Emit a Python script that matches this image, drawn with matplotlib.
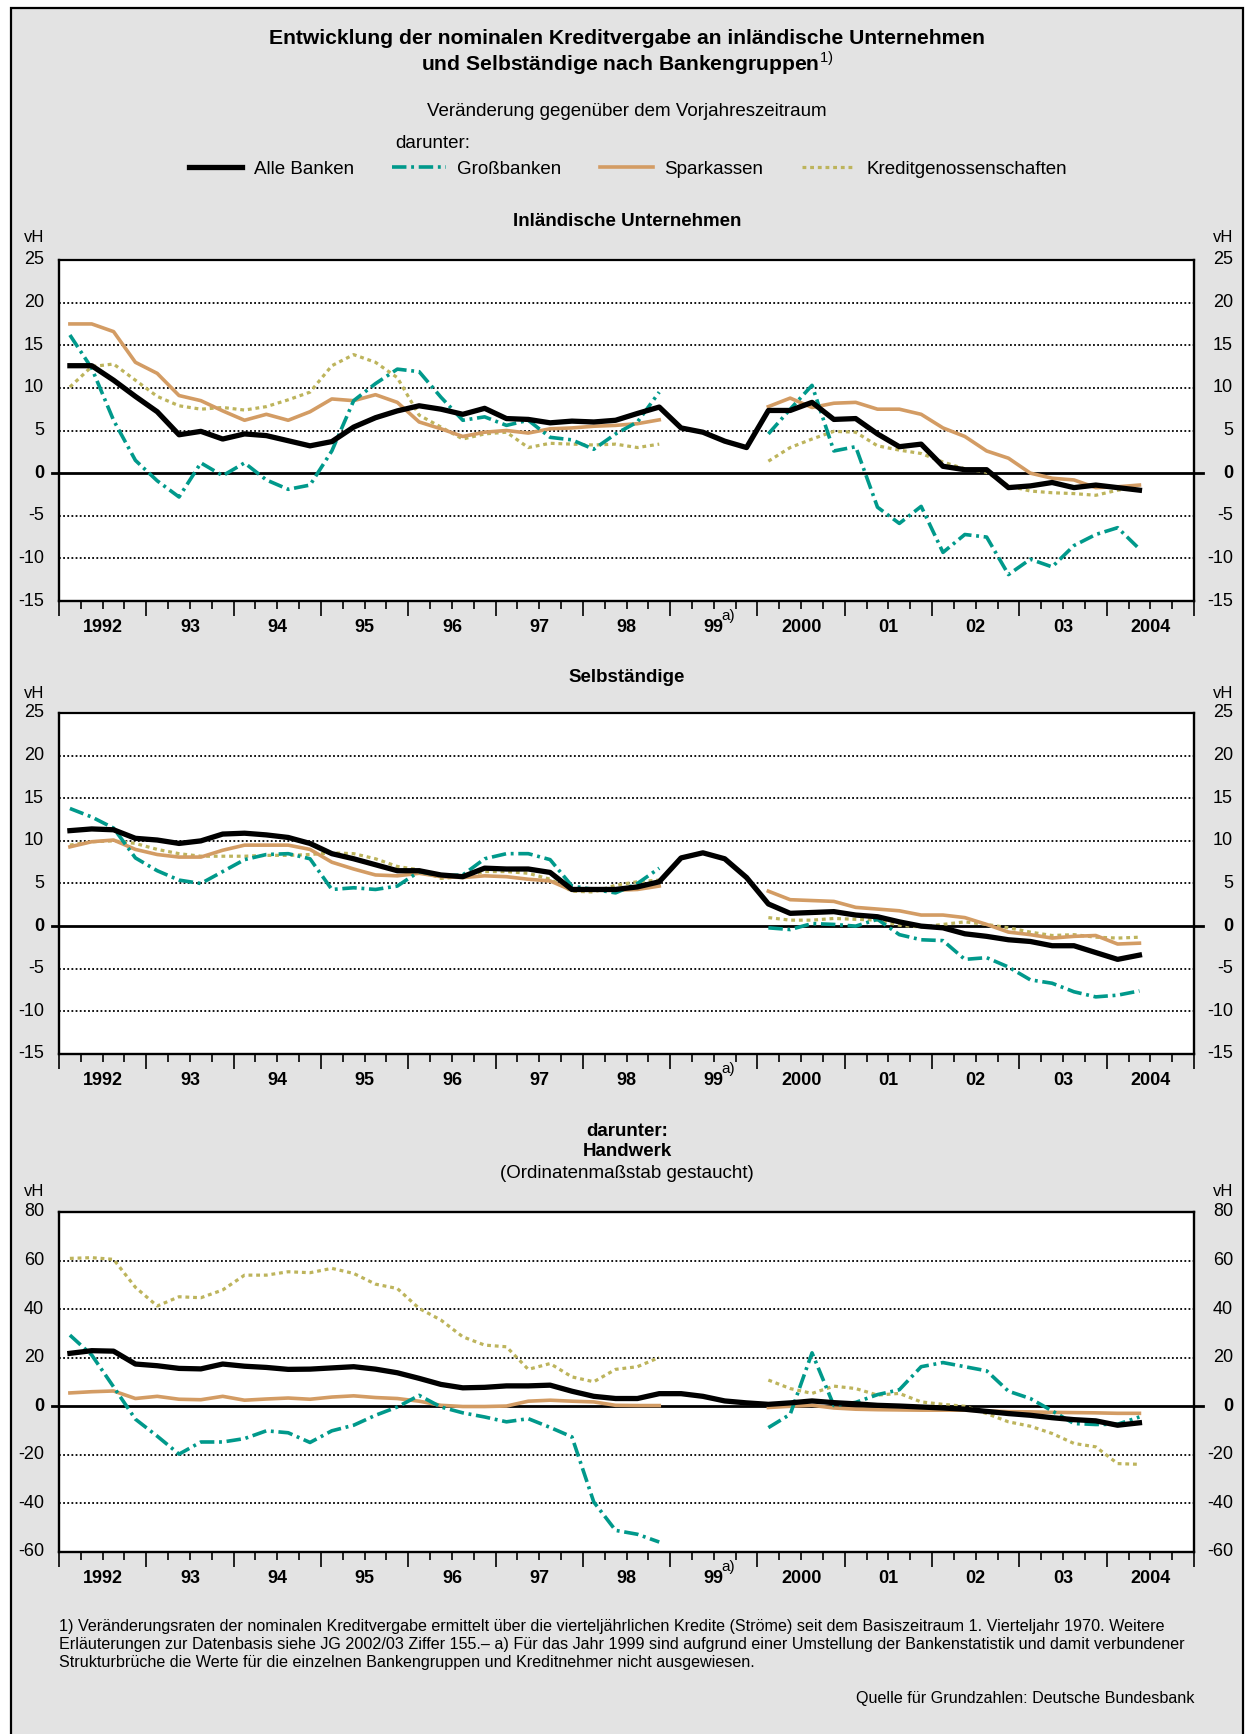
## Kreditvergabe nach Bankengruppen: three panels of quarterly growth rates (vH)

import numpy as np
import matplotlib.pyplot as plt
from matplotlib.lines import Line2D
from matplotlib.patches import Rectangle

plt.rcParams['font.family'] = ['Liberation Sans', 'DejaVu Sans']
plt.rcParams['mathtext.fontset'] = 'custom'
plt.rcParams['mathtext.rm'] = 'Liberation Sans'
plt.rcParams['mathtext.bf'] = 'Liberation Sans:bold'

nan = np.nan

## Data: quarterly values 1992 Q1 .. 2004 Q2 (50 quarters), bank groups not shown for 1999
# Inländische Unternehmen
alle_u = [12.6, 12.6, 10.9, 9.0, 7.2, 4.5, 4.9, 4.0, 4.6, 4.4,
          3.8, 3.2, 3.7, 5.4, 6.5, 7.3, 7.9, 7.5, 6.9, 7.6,
          6.4, 6.3, 5.9, 6.1, 6.0, 6.2, 7.0, 7.75, 5.3, 4.8,
          3.75, 3.0, 7.35, 7.35, 8.3, 6.3, 6.4, 4.6, 3.1, 3.4,
          0.8, 0.4, 0.4, -1.7, -1.5, -1.1, -1.7, -1.4, -1.7, -2.0]
gross_u = [16.2, 12.3, 6.2, 1.5, -0.9, -2.8, 1.2, -0.3, 1.2, -0.8,
           -1.9, -1.4, 2.6, 8.5, 10.5, 12.2, 11.9, 8.9, 6.2, 6.6,
           5.6, 6.2, 4.2, 3.9, 2.8, 4.6, 6.0, 9.5, nan, nan,
           nan, nan, 4.6, 7.5, 10.3, 2.6, 3.1, -4.0, -5.9, -3.9,
           -9.3, -7.2, -7.5, -11.9, -10.1, -11.0, -8.5, -7.2, -6.4, -8.9]
spark_u = [17.5, 17.5, 16.6, 13.0, 11.7, 9.1, 8.5, 7.3, 6.2, 6.9,
           6.2, 7.2, 8.7, 8.5, 9.2, 8.3, 6.0, 5.2, 4.3, 4.8,
           5.0, 4.7, 5.2, 5.3, 5.5, 5.6, 5.8, 6.25, nan, nan,
           nan, nan, 7.8, 8.8, 7.7, 8.2, 8.3, 7.5, 7.5, 6.9,
           5.3, 4.3, 2.6, 1.75, 0.0, -0.6, -0.8, -1.7, -1.6, -1.4]
kredit_u = [10.1, 12.5, 12.8, 10.9, 9.0, 7.9, 7.5, 7.7, 7.4, 7.8,
            8.6, 9.5, 12.6, 13.9, 13.0, 11.2, 6.8, 5.4, 4.0, 4.6,
            4.8, 3.0, 3.5, 3.4, 3.3, 3.4, 3.0, 3.4, nan, nan,
            nan, nan, 1.4, 3.0, 4.0, 4.9, 4.8, 3.2, 2.7, 2.3,
            1.3, 0.5, 0.1, -1.5, -2.1, -2.3, -2.4, -2.6, -2.0, -1.7]

# Selbständige
alle_s = [11.2, 11.4, 11.3, 10.3, 10.1, 9.7, 10.0, 10.8, 10.9, 10.7,
          10.4, 9.7, 8.5, 7.9, 7.2, 6.5, 6.5, 6.0, 5.8, 6.8,
          6.7, 6.7, 6.3, 4.3, 4.3, 4.3, 4.6, 5.2, 8.0, 8.6,
          7.9, 5.7, 2.6, 1.5, 1.6, 1.7, 1.3, 1.1, 0.5, 0.0,
          -0.2, -0.9, -1.2, -1.6, -1.8, -2.3, -2.3, -3.1, -3.9, -3.4]
gross_s = [13.8, 12.8, 11.5, 8.0, 6.5, 5.4, 5.0, 6.4, 7.8, 8.4,
           8.5, 7.9, 4.3, 4.5, 4.3, 4.7, 6.4, 5.9, 6.0, 7.9,
           8.5, 8.5, 7.8, 4.7, 4.3, 3.9, 5.0, 6.8, nan, nan,
           nan, nan, -0.2, -0.4, 0.3, 0.2, 0.0, 0.8, -1.0, -1.6,
           -1.7, -3.9, -3.7, -4.8, -6.3, -6.7, -7.7, -8.3, -8.1, -7.6]
spark_s = [9.3, 9.9, 10.1, 9.0, 8.4, 8.1, 8.1, 8.9, 9.5, 9.5,
           9.5, 9.0, 7.5, 6.7, 6.0, 5.9, 6.2, 5.8, 5.7, 5.9,
           5.8, 5.5, 5.3, 4.2, 4.2, 4.2, 4.3, 4.7, nan, nan,
           nan, nan, 4.1, 3.1, 3.0, 2.9, 2.2, 2.0, 1.8, 1.3,
           1.3, 1.0, 0.2, -0.7, -1.0, -1.4, -1.2, -1.1, -2.1, -2.0]
kredit_s = [9.5, 9.9, 10.0, 9.7, 9.0, 8.5, 8.2, 8.2, 8.2, 8.3,
            8.3, 8.4, 8.6, 8.5, 7.9, 7.0, 6.6, 5.6, 5.8, 6.4,
            6.4, 6.2, 5.5, 4.1, 4.0, 4.8, 5.2, 5.4, nan, nan,
            nan, nan, 1.0, 0.7, 0.7, 0.9, 0.8, 0.7, 0.1, -0.1,
            0.2, 0.5, 0.2, -0.2, -0.7, -1.1, -1.0, -1.3, -1.4, -1.3]

# darunter: Handwerk
alle_h = [21.8, 22.9, 22.7, 17.4, 16.7, 15.6, 15.4, 17.4, 16.5, 16.0,
          15.2, 15.3, 15.8, 16.3, 15.3, 13.8, 11.5, 9.0, 7.6, 7.8,
          8.4, 8.4, 8.7, 6.2, 4.1, 3.2, 3.2, 5.2, 5.2, 4.1,
          2.2, 1.4, 0.8, 1.4, 2.2, 1.5, 1.0, 0.4, 0.1, -0.3,
          -0.7, -1.2, -2.1, -3.0, -3.7, -4.7, -5.5, -6.0, -7.8, -6.8]
gross_h = [29.3, 21.1, 8.0, -5.3, -12.3, -19.7, -14.7, -14.7, -13.3, -10.1,
           -10.9, -14.9, -10.1, -7.8, -3.7, -0.3, 4.5, -0.3, -2.7, -4.4,
           -6.4, -5.1, -8.7, -12.6, -39.4, -51.1, -52.7, -55.9, nan, nan,
           nan, nan, -8.8, -3.3, 22.0, 0.3, 1.6, 4.8, 6.8, 16.3,
           18.0, 16.3, 14.6, 6.2, 3.2, -1.9, -7.1, -7.5, -7.4, -4.4]
spark_h = [5.5, 6.0, 6.3, 3.2, 4.1, 2.9, 2.7, 4.1, 2.5, 3.0,
           3.4, 2.9, 3.8, 4.3, 3.6, 3.2, 2.1, 0.4, -0.1, -0.1,
           0.1, 2.1, 2.5, 2.1, 1.8, 0.4, 0.3, 0.3, nan, nan,
           nan, nan, -0.5, 0.0, 0.4, -0.7, -1.2, -1.4, -1.5, -1.6,
           -1.6, -1.6, -1.9, -2.2, -2.3, -2.5, -2.6, -2.7, -2.9, -2.9]
kredit_h = [60.9, 61.2, 60.5, 49.0, 41.3, 45.1, 44.7, 47.9, 54.0, 54.0,
            55.4, 55.0, 56.8, 54.7, 50.3, 48.5, 40.3, 35.5, 28.6, 25.2,
            24.5, 15.2, 17.6, 12.1, 10.1, 15.2, 16.3, 20.1, nan, nan,
            nan, nan, 10.8, 7.3, 5.3, 8.3, 7.3, 4.6, 5.3, 1.8,
            0.8, 0.0, -3.0, -6.4, -8.2, -11.2, -15.3, -16.7, -23.6, -23.9]

year_labels = ['1992', '93', '94', '95', '96', '97', '98', '99',
               '2000', '01', '02', '03', '2004']
series_names = ['Alle Banken', 'Großbanken', 'Sparkassen', 'Kreditgenossenschaften']

## Styles
c_alle = 'black'
c_gross = '#00998b'
c_spark = '#d39c64'
c_kredit = '#bdb45c'
ls_gross = (0, (4, 1.3, 0.8, 1.3))
ls_kredit = (0, (1.2, 1.2))
bg = '#e3e3e3'

W, H = 1246, 1734
def fx(px):
    return px / W
def fy(py):
    return 1 - py / H

xq = 1992 + (np.arange(len(alle_u)) + 0.5) / 4.0

fig = plt.figure(figsize=(12.46, 17.34), dpi=100, facecolor='white')
fig.add_artist(Rectangle((fx(11), -0.02), fx(1243) - fx(11), fy(8) + 0.02,
                         transform=fig.transFigure, facecolor=bg,
                         edgecolor='black', lw=1.6, zorder=-10))


def draw_panel(box, alle, gross, spark, kredit, ylo, yhi, ystep, top_dotted):
    x0, y0, x1, y1 = box
    ax = fig.add_axes([fx(x0), fy(y1), fx(x1) - fx(x0), (y1 - y0) / H])
    ax.set_facecolor('white')
    ax.set_xlim(1992, 2005)
    ax.set_ylim(ylo, yhi)

    for v in np.arange(ylo + ystep, yhi, ystep):
        if v != 0:
            ax.axhline(v, color='black', lw=1.3, ls=(0, (1, 1.3)), zorder=1)
    ax.axhline(0, -0.006, 1.008, color='black', lw=2.0, clip_on=False, zorder=2)

    ax.plot(xq, np.array(kredit, float), color=c_kredit, lw=2.3, ls=ls_kredit, zorder=3)
    ax.plot(xq, np.array(spark, float), color=c_spark, lw=2.6, zorder=3)
    ax.plot(xq, np.array(gross, float), color=c_gross, lw=2.6, ls=ls_gross, zorder=4)
    ax.plot(xq, np.array(alle, float), color=c_alle, lw=3.8, zorder=5)

    for s in ['left', 'right', 'bottom']:
        ax.spines[s].set_linewidth(1.7)
    if top_dotted:
        ax.spines['top'].set_linestyle((0, (1, 1)))
        ax.spines['top'].set_linewidth(1.6)
    else:
        ax.spines['top'].set_linewidth(1.7)

    # y labels on both sides
    ax.tick_params(axis='y', left=False, labelleft=False)
    ytr = ax.get_yaxis_transform()
    for v in np.arange(ylo, yhi + ystep / 2, ystep):
        w = 'bold' if v == 0 else 'normal'
        ax.text(-0.0132, v, '%d' % v, transform=ytr, ha='right', va='center',
                fontsize=13, fontweight=w)
        ax.text(1.0344, v, '%d' % v, transform=ytr, ha='right', va='center',
                fontsize=13, fontweight=w)

    # quarter ticks, year labels between year ticks
    ax.set_xticks(np.arange(1992, 2006))
    ax.set_xticks(np.arange(1992, 2005.01, 0.25), minor=True)
    ax.tick_params(axis='x', which='major', length=10.5, width=1.2, direction='out',
                   labelbottom=False)
    ax.tick_params(axis='x', which='minor', length=5.5, width=1.2, direction='out')
    xtr = ax.get_xaxis_transform()
    for k, lab in enumerate(year_labels):
        ax.text(1992 + k + 0.5, -0.078, lab, transform=xtr, ha='center', va='center',
                fontsize=13, fontweight='bold')
    ax.annotate('a)', xy=(1999.5, -0.078), xycoords=xtr, xytext=(5.5, 8),
                textcoords='offset points', ha='left', va='center', fontsize=11)
    return ax


draw_panel((59, 260, 1194, 601), alle_u, gross_u, spark_u, kredit_u, -15, 25, 5, True)
draw_panel((59, 713, 1194, 1054), alle_s, gross_s, spark_s, kredit_s, -15, 25, 5, True)
draw_panel((59, 1212, 1194, 1552), alle_h, gross_h, spark_h, kredit_h, -60, 80, 20, False)

## Texts
fig.text(fx(627), fy(39), 'Entwicklung der nominalen Kreditvergabe an inländische Unternehmen',
         ha='center', va='center', fontsize=15.2, fontweight='bold')
fig.text(fx(627), fy(63), 'und Selbständige nach Bankengruppen$^{\\mathrm{1)}}$',
         ha='center', va='center', fontsize=15.2, fontweight='bold')
fig.text(fx(627), fy(112), 'Veränderung gegenüber dem Vorjahreszeitraum',
         ha='center', va='center', fontsize=13.5)
fig.text(fx(395), fy(144), 'darunter:', ha='left', va='center', fontsize=13.5)

handles = [Line2D([], [], color=c_alle, lw=3.8),
           Line2D([], [], color=c_gross, lw=2.6, ls=ls_gross),
           Line2D([], [], color=c_spark, lw=2.6),
           Line2D([], [], color=c_kredit, lw=2.3, ls=ls_kredit)]
fig.legend(handles, series_names, loc='center', bbox_to_anchor=(fx(628), fy(169)),
           ncol=4, frameon=False, fontsize=13.5, handlelength=2.85,
           handletextpad=0.6, columnspacing=2.05)

fig.text(fx(627), fy(222), 'Inländische Unternehmen', ha='center', va='center',
         fontsize=13.5, fontweight='bold')
fig.text(fx(627), fy(677), 'Selbständige', ha='center', va='center',
         fontsize=13.5, fontweight='bold')
fig.text(fx(627), fy(1131), 'darunter:', ha='center', va='center',
         fontsize=13.5, fontweight='bold')
fig.text(fx(627), fy(1152), 'Handwerk', ha='center', va='center',
         fontsize=13.5, fontweight='bold')
fig.text(fx(627), fy(1174), '(Ordinatenmaßstab gestaucht)', ha='center', va='center',
         fontsize=13.5)

for yy in [237, 694, 1192]:
    fig.text(fx(44), fy(yy), 'vH', ha='right', va='center', fontsize=12)
    fig.text(fx(1233), fy(yy), 'vH', ha='right', va='center', fontsize=12)

foot = ['1) Veränderungsraten der nominalen Kreditvergabe ermittelt über die vierteljährlichen '
        'Kredite (Ströme) seit dem Basiszeitraum 1. Vierteljahr 1970. Weitere',
        'Erläuterungen zur Datenbasis siehe JG 2002/03 Ziffer 155.– a) Für das Jahr 1999 sind '
        'aufgrund einer Umstellung der Bankenstatistik und damit verbundener',
        'Strukturbrüche die Werte für die einzelnen Bankengruppen und Kreditnehmer nicht ausgewiesen.']
for k, line in enumerate(foot):
    fig.text(fx(59), fy(1626 + 18 * k), line, ha='left', va='center', fontsize=11.6)
fig.text(fx(1194), fy(1699), 'Quelle für Grundzahlen: Deutsche Bundesbank',
         ha='right', va='center', fontsize=11.6)

plt.savefig('out.png', dpi=100, facecolor=fig.get_facecolor())
